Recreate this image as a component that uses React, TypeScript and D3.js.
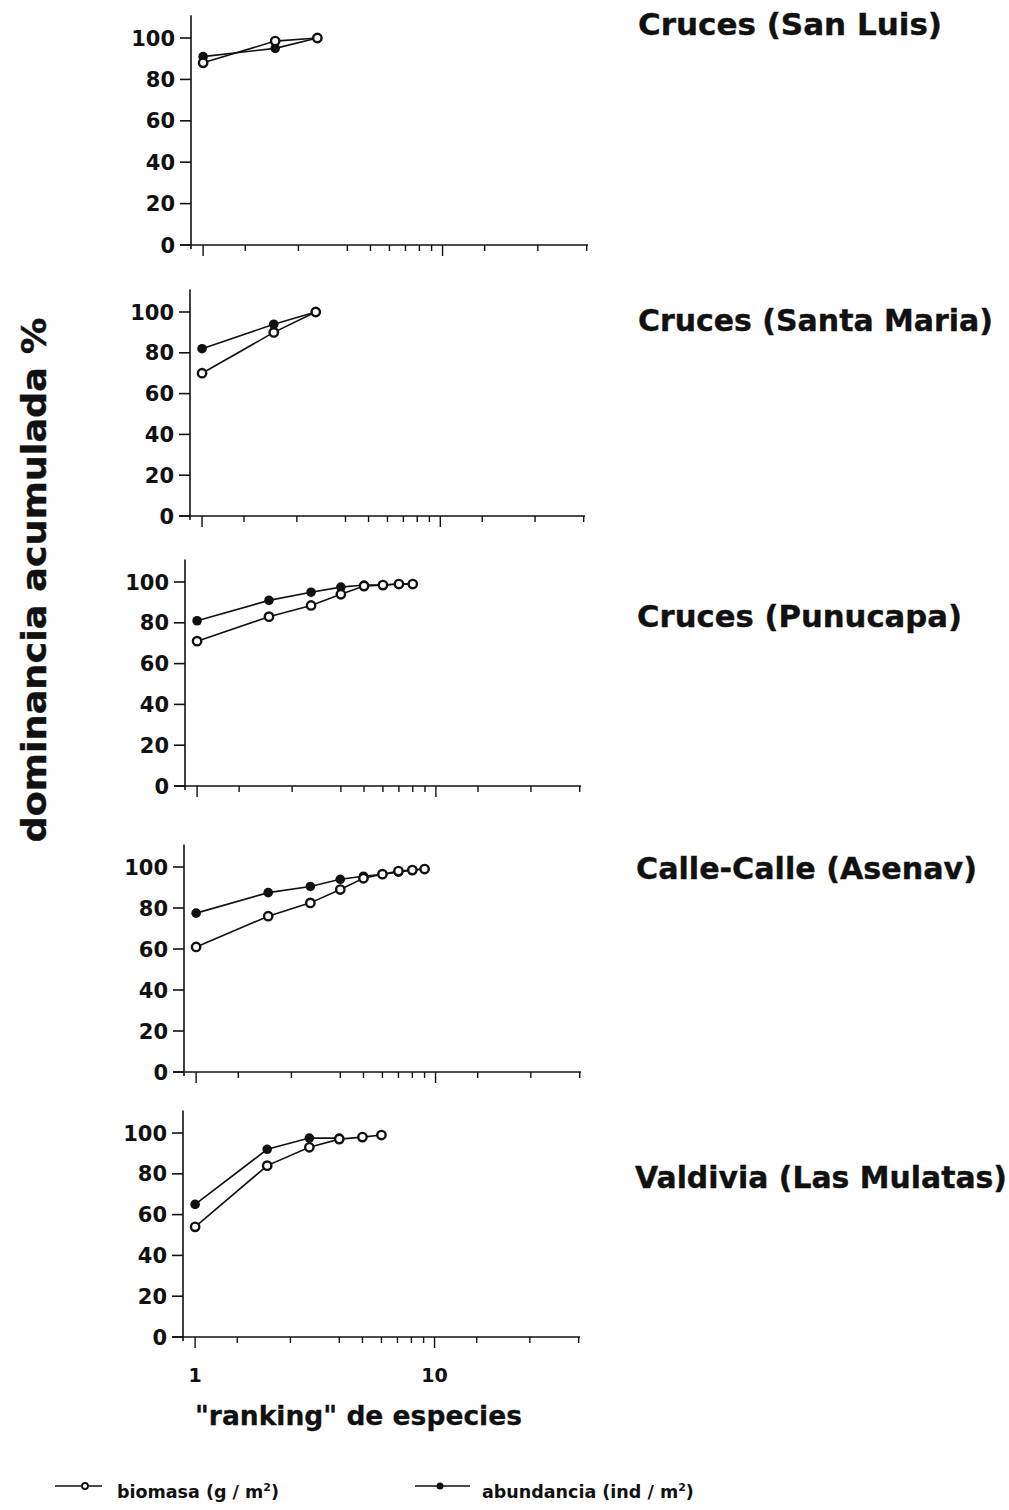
import React from "react";
import * as d3 from "d3";

// panel titles
const panelTitles = [
  "Cruces (San Luis)",
  "Cruces (Santa Maria)",
  "Cruces (Punucapa)",
  "Calle-Calle (Asenav)",
  "Valdivia (Las Mulatas)",
];

// cumulative dominance (%) by species rank (rank = index + 1)
const biomasa1 = [88, 98.5, 100];
const abundancia1 = [91, 95, 100];
const biomasa2 = [70, 90, 100];
const abundancia2 = [82, 94, 100];
const biomasa3 = [71, 83, 88.5, 94, 98, 98.5, 99, 99];
const abundancia3 = [81, 91, 95, 97.5, 98.5, 98.5, 99, 99];
const biomasa4 = [61, 76, 82.5, 89, 94.5, 96.5, 98, 98.5, 99];
const abundancia4 = [77.5, 87.5, 90.5, 94, 95.5, 96.5, 97.5, 98.5, 99];
const biomasa5 = [54, 84, 93, 97, 98, 99];
const abundancia5 = [65, 92, 97.5, 97.5];

const biomasaSeries = [biomasa1, biomasa2, biomasa3, biomasa4, biomasa5];
const abundanciaSeries = [abundancia1, abundancia2, abundancia3, abundancia4, abundancia5];

const yTicks = [0, 20, 40, 60, 80, 100];
const xTicks = [1, 1.5, 2.5, 4, 5, 6, 7, 8, 9, 10, 15, 25, 40];
const xMajor = [1, 10];
const xDomain: [number, number] = [0.89, 40.5];
const yTop = 111;

// layout of each scanned panel (pixels)
const panels = [
  { left: 191, right: 588, y0: 245, y100: 38, titleX: 638, titleY: 35, titleW: 304 },
  { left: 190, right: 585, y0: 516, y100: 312, titleX: 638, titleY: 331, titleW: 355 },
  { left: 185, right: 581, y0: 786, y100: 582, titleX: 637, titleY: 627, titleW: 325 },
  { left: 184, right: 581, y0: 1072, y100: 867, titleX: 636, titleY: 879, titleW: 341 },
  { left: 183, right: 580, y0: 1337, y100: 1133, titleX: 635, titleY: 1188, titleW: 372 },
];

const FONT = "'DejaVu Sans', sans-serif";
const INK = "#111";

const Panel: React.FC<{ i: number }> = ({ i }) => {
  const p = panels[i];
  const x = d3.scaleLog().domain(xDomain).range([p.left, p.right]);
  const y = d3.scaleLinear().domain([0, 100]).range([p.y0, p.y100]);
  const line = d3
    .line<number>()
    .x((_, k) => x(k + 1))
    .y((d) => y(d));
  const bio = biomasaSeries[i];
  const abu = abundanciaSeries[i];

  return (
    <g>
      {/* axes */}
      <line x1={p.left} x2={p.left} y1={y(0) + 4} y2={y(yTop)} stroke={INK} strokeWidth={1.6} />
      <line x1={p.left - 11} x2={p.right} y1={y(0)} y2={y(0)} stroke={INK} strokeWidth={1.6} />
      {yTicks.map((t) => (
        <g key={t}>
          <line x1={p.left - 11} x2={p.left} y1={y(t)} y2={y(t)} stroke={INK} strokeWidth={1.6} />
          <text
            x={p.left - 16}
            y={y(t)}
            dy="0.36em"
            textAnchor="end"
            fontFamily={FONT}
            fontWeight="bold"
            fontSize={21}
            fill={INK}
          >
            {t}
          </text>
        </g>
      ))}
      {xTicks.map((t) => (
        <line
          key={t}
          x1={x(t)}
          x2={x(t)}
          y1={y(0)}
          y2={y(0) + (xMajor.includes(t) ? 11 : 6)}
          stroke={INK}
          strokeWidth={1.4}
        />
      ))}
      {/* series */}
      <path d={line(abu) ?? ""} fill="none" stroke={INK} strokeWidth={1.6} />
      <path d={line(bio) ?? ""} fill="none" stroke={INK} strokeWidth={1.6} />
      {abu.map((d, k) => (
        <circle key={"a" + k} cx={x(k + 1)} cy={y(d)} r={4.8} fill={INK} />
      ))}
      {bio.map((d, k) => (
        <circle key={"b" + k} cx={x(k + 1)} cy={y(d)} r={4.2} fill="#fff" stroke={INK} strokeWidth={2.4} />
      ))}
      <text
        x={p.titleX}
        y={p.titleY}
        fontFamily={FONT}
        fontWeight="bold"
        fontSize={30}
        fill={INK}
        stroke={INK}
        strokeWidth={0.4}
        textLength={p.titleW}
        lengthAdjust="spacingAndGlyphs"
      >
        {panelTitles[i]}
      </text>
    </g>
  );
};

const App: React.FC = () => {
  const last = panels[panels.length - 1];
  const xLast = d3.scaleLog().domain(xDomain).range([last.left, last.right]);
  return (
    <svg
      width={1009}
      height={1510}
      style={{ position: "absolute", left: 0, top: 0, background: "#fff" }}
    >
      {panels.map((_, i) => (
        <Panel key={i} i={i} />
      ))}
      {/* x tick labels on bottom panel */}
      {xMajor.map((t) => (
        <text
          key={t}
          x={xLast(t)}
          y={1382}
          textAnchor="middle"
          fontFamily={FONT}
          fontWeight="bold"
          fontSize={19}
          fill={INK}
        >
          {t}
        </text>
      ))}
      <text
        x={195}
        y={1425}
        fontFamily={FONT}
        fontWeight="bold"
        fontSize={27}
        fill={INK}
        stroke={INK}
        strokeWidth={0.3}
        textLength={327}
        lengthAdjust="spacingAndGlyphs"
      >
        "ranking" de especies
      </text>
      <text
        transform="translate(46,580) rotate(-90)"
        textAnchor="middle"
        fontFamily={FONT}
        fontWeight="bold"
        fontSize={34}
        fill={INK}
        stroke={INK}
        strokeWidth={0.4}
        textLength={525}
        lengthAdjust="spacingAndGlyphs"
      >
        dominancia acumulada %
      </text>
      {/* legend */}
      <line x1={55} x2={102} y1={1486} y2={1486} stroke={INK} strokeWidth={1.5} />
      <circle cx={85} cy={1486} r={3} fill="#fff" stroke={INK} strokeWidth={1.8} />
      <text x={117} y={1498} fontFamily={FONT} fontWeight="bold" fontSize={17.5} fill={INK}>
        biomasa (g / m<tspan dy={-7} fontSize={11}>2</tspan>
        <tspan dy={7}>)</tspan>
      </text>
      <line x1={415} x2={470} y1={1486} y2={1486} stroke={INK} strokeWidth={1.5} />
      <circle cx={440} cy={1486} r={3.5} fill={INK} />
      <text x={482} y={1498} fontFamily={FONT} fontWeight="bold" fontSize={17.5} fill={INK}>
        abundancia (ind / m<tspan dy={-7} fontSize={11}>2</tspan>
        <tspan dy={7}>)</tspan>
      </text>
    </svg>
  );
};

export default App;
